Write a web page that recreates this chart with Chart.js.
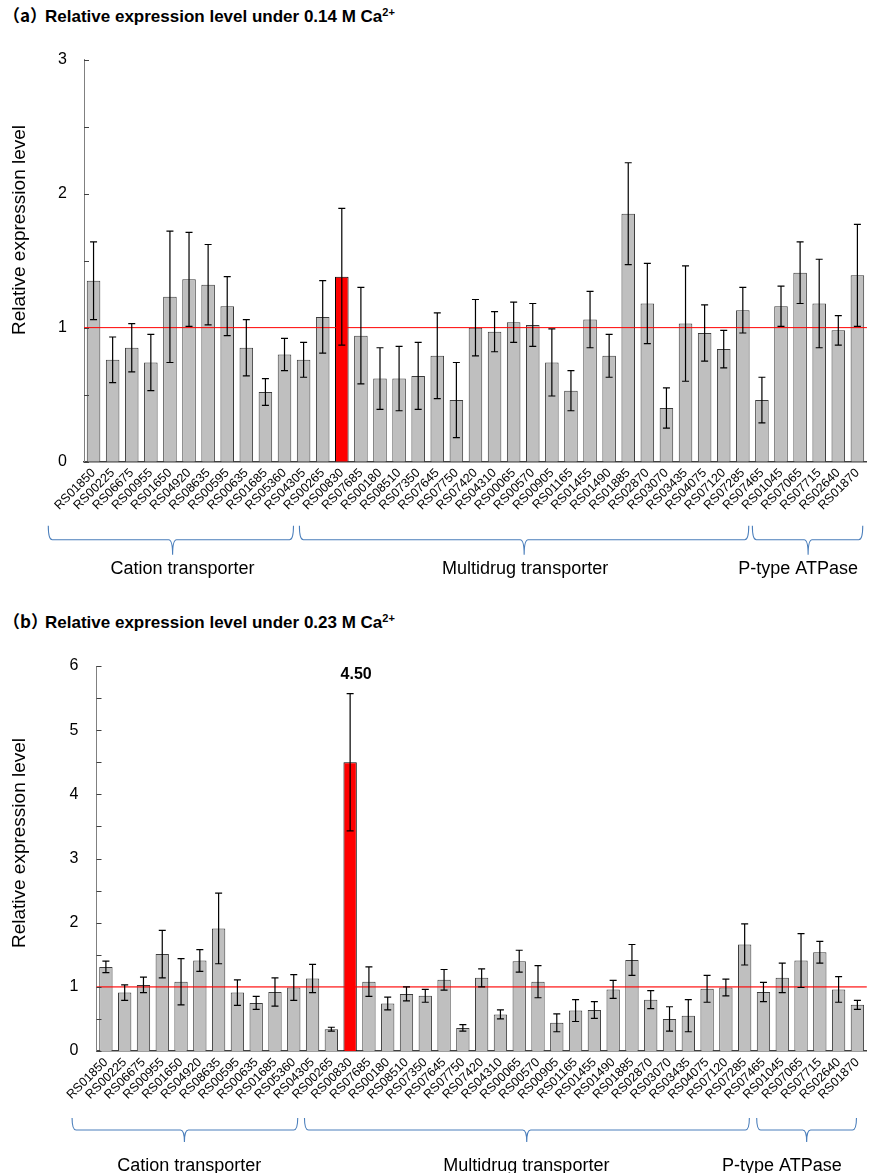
<!DOCTYPE html>
<html>
<head>
<meta charset="utf-8">
<script src="https://cdn.jsdelivr.net/npm/chart.js@4.4.1/dist/chart.umd.min.js"></script>
<style>
html, body { margin: 0; padding: 0; background: #fff; }
body { position: relative; width: 869px; height: 1173px; overflow: hidden; }
.title { position: absolute; font: bold 17px "Liberation Sans", Arial, sans-serif; line-height: 17px; white-space: nowrap; color: #000; }
.title .pre { display: inline-block; width: 42px; font-family: "Noto Sans CJK SC", sans-serif; }
.title sup { font-size: 11px; line-height: 0; vertical-align: 6px; }
canvas { position: absolute; left: 0; }
</style>
</head>
<body>
<div class="title" style="left:3px; top:6px"><span class="pre">（a）</span>Relative expression level under 0.14 M Ca<sup>2+</sup></div>
<canvas id="chartA" width="872" height="600" style="top:0"></canvas>
<div class="title" style="left:3px; top:612px"><span class="pre">（b）</span>Relative expression level under 0.23 M Ca<sup>2+</sup></div>
<canvas id="chartB" width="872" height="573" style="top:600px"></canvas>
<script>
// gene ids (x axis)
const genes = ["RS01850", "RS00225", "RS06675", "RS00955", "RS01650", "RS04920", "RS08635", "RS00595",
  "RS00635", "RS01685", "RS05360", "RS04305", "RS00265", "RS00830", "RS07685", "RS00180", "RS08510",
  "RS07350", "RS07645", "RS07750", "RS07420", "RS04310", "RS00065", "RS00570", "RS00905", "RS01165",
  "RS01455", "RS01490", "RS01885", "RS02870", "RS03070", "RS03435", "RS04075", "RS07120", "RS07285",
  "RS07465", "RS01045", "RS07065", "RS07715", "RS02640", "RS01870"];

// (a) 0.14 M Ca2+
const valuesA = [1.35, 0.76, 0.85, 0.74, 1.23, 1.36, 1.32, 1.16, 0.85, 0.52, 0.80, 0.76, 1.08, 1.38,
  0.94, 0.62, 0.62, 0.64, 0.79, 0.46, 1.00, 0.97, 1.04, 1.02, 0.74, 0.53, 1.06, 0.79, 1.85, 1.18,
  0.40, 1.03, 0.96, 0.84, 1.13, 0.46, 1.16, 1.41, 1.18, 0.98, 1.39];
const errorsA = [0.29, 0.17, 0.18, 0.21, 0.49, 0.35, 0.30, 0.22, 0.21, 0.10, 0.12, 0.13, 0.27, 0.51,
  0.36, 0.23, 0.24, 0.25, 0.32, 0.28, 0.21, 0.15, 0.15, 0.16, 0.25, 0.15, 0.21, 0.16, 0.38, 0.30,
  0.15, 0.43, 0.21, 0.14, 0.17, 0.17, 0.15, 0.23, 0.33, 0.11, 0.38];

// (b) 0.23 M Ca2+
const valuesB = [1.31, 0.91, 1.03, 1.51, 1.08, 1.41, 1.91, 0.91, 0.75, 0.92, 0.99, 1.13, 0.34, 4.50,
  1.08, 0.74, 0.89, 0.86, 1.11, 0.36, 1.14, 0.57, 1.40, 1.08, 0.44, 0.63, 0.64, 0.96, 1.42, 0.80,
  0.50, 0.55, 0.97, 0.99, 1.66, 0.92, 1.14, 1.41, 1.54, 0.96, 0.72];
const errorsB = [0.09, 0.12, 0.12, 0.37, 0.36, 0.17, 0.55, 0.20, 0.10, 0.22, 0.20, 0.22, 0.03, 1.07,
  0.23, 0.10, 0.11, 0.10, 0.16, 0.05, 0.14, 0.07, 0.17, 0.25, 0.14, 0.17, 0.13, 0.14, 0.24, 0.14,
  0.19, 0.25, 0.21, 0.13, 0.32, 0.15, 0.23, 0.42, 0.17, 0.20, 0.07];

const highlight = "RS00830";
const refValue = 1;
const groupNames = ["Cation transporter", "Multidrug transporter", "P-type ATPase"];

const FONT = '"Liberation Sans", Arial, sans-serif';

// brace placement in category units (hand drawn in the original, so not exactly on bar edges)
const bracesA = [
  { from: -2.37, to: 10.47, mid: 4.14, text: 4.66 },
  { from: 10.78, to: 34.31, mid: 22.55, text: 22.6 },
  { from: 34.5, to: 40.28, mid: 37.42, text: 36.9 }
];
const bracesB = [
  { from: -1.8, to: 10.21, mid: 4.18, text: 4.44 },
  { from: 10.57, to: 34.25, mid: 22.4, text: 22.38 },
  { from: 34.64, to: 39.95, mid: 37.3, text: 35.98 }
];

function drawBrace(ctx, x0, x1, xm, yTop, yLine, yTip) {
  const r = 4;
  ctx.beginPath();
  ctx.moveTo(x0, yTop);
  ctx.quadraticCurveTo(x0, yLine, x0 + r, yLine);
  ctx.lineTo(xm - r, yLine);
  ctx.quadraticCurveTo(xm, yLine, xm, yTip);
  ctx.quadraticCurveTo(xm, yLine, xm + r, yLine);
  ctx.lineTo(x1 - r, yLine);
  ctx.quadraticCurveTo(x1, yLine, x1, yTop);
  ctx.stroke();
}

const extras = {
  id: "extras",
  afterDatasetsDraw(chart, args, opts) {
    const { ctx, chartArea: area, scales: { x, y } } = chart;
    const meta = chart.getDatasetMeta(0);
    ctx.save();
    // reference line at 1
    const yr = y.getPixelForValue(refValue);
    ctx.strokeStyle = opts.refColor;
    ctx.lineWidth = opts.refWidth;
    ctx.beginPath();
    ctx.moveTo(area.left, yr);
    ctx.lineTo(area.right, yr);
    ctx.stroke();
    // error bars
    ctx.strokeStyle = "#000";
    ctx.lineWidth = 1.2;
    meta.data.forEach((bar, i) => {
      const v = opts.values[i], e = opts.errors[i];
      const yt = y.getPixelForValue(v + e), yb = y.getPixelForValue(v - e);
      ctx.beginPath();
      ctx.moveTo(bar.x, yt); ctx.lineTo(bar.x, yb);
      ctx.moveTo(bar.x - 3.5, yt); ctx.lineTo(bar.x + 3.5, yt);
      ctx.moveTo(bar.x - 3.5, yb); ctx.lineTo(bar.x + 3.5, yb);
      ctx.stroke();
    });
    // value label over the highlighted bar
    if (opts.showValue) {
      const i = genes.indexOf(highlight);
      const bar = meta.data[i];
      ctx.fillStyle = "#000";
      ctx.font = "bold 16px " + FONT;
      ctx.textAlign = "center";
      ctx.textBaseline = "middle";
      ctx.fillText(opts.values[i].toFixed(2), bar.x + 6, y.getPixelForValue(opts.values[i] + opts.errors[i]) - 19);
    }
    ctx.restore();
  },
  afterDraw(chart, args, opts) {
    const { ctx, chartArea: area, scales: { x, y } } = chart;
    ctx.save();
    // inward ticks every 0.5
    ctx.strokeStyle = "#404040";
    ctx.lineWidth = 1;
    for (let v = 0; v <= y.max + 1e-9; v += 0.5) {
      const py = Math.round(y.getPixelForValue(v)) + 0.5;
      ctx.beginPath();
      ctx.moveTo(area.left, py);
      ctx.lineTo(area.left + 5, py);
      ctx.stroke();
    }
    // y title
    ctx.fillStyle = "#000";
    ctx.font = "19px " + FONT;
    ctx.textAlign = "center";
    ctx.textBaseline = "middle";
    ctx.translate(20, opts.yTitleY);
    ctx.rotate(-Math.PI / 2);
    ctx.fillText("Relative expression level", 0, 0);
    ctx.setTransform(1, 0, 0, 1, 0, 0);
    // group braces
    ctx.strokeStyle = "#4a7ebb";
    ctx.lineWidth = 1.1;
    const b = area.bottom;
    opts.braces.forEach((br, k) => {
      drawBrace(ctx, x.getPixelForValue(br.from), x.getPixelForValue(br.to), x.getPixelForValue(br.mid),
        b + opts.braceTop, b + opts.braceLine, b + opts.braceTip);
      ctx.fillStyle = "#000";
      ctx.font = "18px " + FONT;
      ctx.textAlign = "center";
      ctx.textBaseline = "alphabetic";
      ctx.fillText(groupNames[k], x.getPixelForValue(br.text), b + opts.textBase);
    });
    ctx.restore();
  }
};

function makeChart(canvasId, values, errors, cfg) {
  return new Chart(document.getElementById(canvasId), {
    type: "bar",
    data: {
      labels: genes,
      datasets: [{
        data: values,
        backgroundColor: genes.map(g => g === highlight ? "#ff0000" : "#bfbfbf"),
        borderColor: genes.map(g => g === highlight ? "#000000" : "#3c3c3c"),
        borderWidth: 1,
        barPercentage: 0.71,
        categoryPercentage: 1
      }]
    },
    options: {
      responsive: false,
      animation: false,
      devicePixelRatio: 1,
      layout: { padding: { top: cfg.top, left: 0, right: 0, bottom: 0 } },
      plugins: {
        legend: { display: false },
        tooltip: { enabled: false },
        extras: {
          values, errors,
          refColor: cfg.refColor, refWidth: cfg.refWidth,
          showValue: cfg.showValue,
          yTitleY: cfg.yTitleY,
          braces: cfg.braces,
          braceTop: cfg.braceTop, braceLine: cfg.braceLine, braceTip: cfg.braceTip, textBase: cfg.textBase
        }
      },
      scales: {
        x: {
          grid: { display: false, drawTicks: false },
          border: { color: "#404040", width: 1.5 },
          ticks: { autoSkip: false, minRotation: 45, maxRotation: 45, color: "#000", padding: 4,
            font: { family: FONT, size: 12.5 } },
          afterFit: s => { s.height = cfg.height - cfg.bottom; }
        },
        y: {
          min: 0, max: cfg.max,
          grid: { display: false, drawTicks: false },
          border: { color: "#808080", width: 1 },
          ticks: { stepSize: 1, color: "#000", padding: cfg.tickPad, font: { family: FONT, size: 16 } },
          afterFit: s => { s.width = cfg.left; }
        }
      }
    },
    plugins: [extras]
  });
}

makeChart("chartA", valuesA, errorsA, {
  top: 59.5, bottom: 461.7, height: 600, left: 84, max: 3, tickPad: 17,
  refColor: "#ff0000", refWidth: 1, showValue: false, yTitleY: 230,
  braces: bracesA, braceTop: 64, braceLine: 78, braceTip: 93, textBase: 112
});

makeChart("chartB", valuesB, errorsB, {
  top: 66, bottom: 451, height: 573, left: 96.5, max: 6, tickPad: 18,
  refColor: "rgba(255,0,0,0.65)", refWidth: 1.6, showValue: true, yTitleY: 243,
  braces: bracesB, braceTop: 67, braceLine: 79, braceTip: 91, textBase: 120
});
</script>
</body>
</html>
